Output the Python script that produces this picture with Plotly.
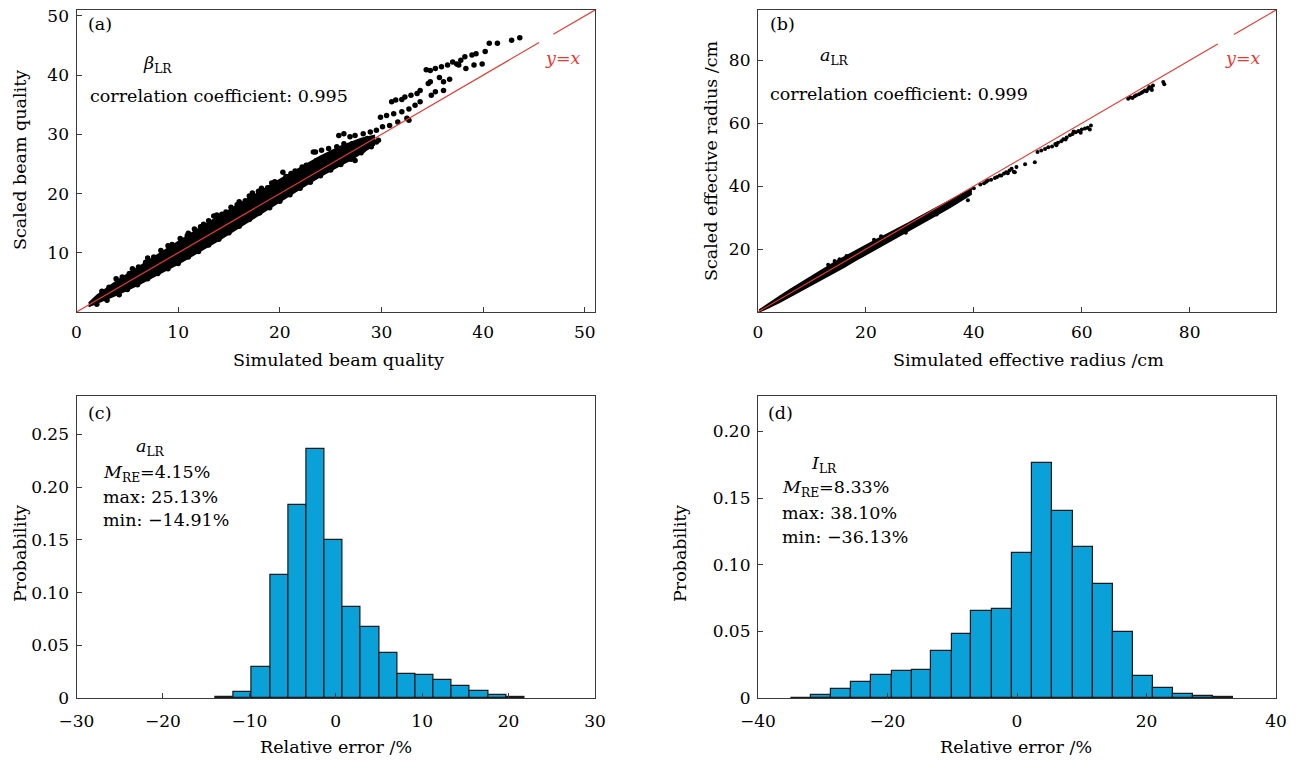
import plotly.graph_objects as go

FONT = "DejaVu Serif"
RED = "#e8392e"
BLUE = "#0aa0d8"

# ---------------- data ----------------
# (a) simulated vs scaled beam quality: dense core band (read envelope) + individual points
a_band_x = [1.2, 2, 4, 6, 8, 10, 12, 14, 16, 18, 20, 22, 24, 26, 27, 28, 29.3]
a_band_upper = [1.5, 2.8, 5.3, 7.5, 9.8, 12.0, 14.1, 16.2, 18.2, 20.3, 22.4, 24.4, 26.3, 28.0, 28.7, 29.3, 29.8]
a_band_lower = [0.9, 1.4, 2.9, 4.5, 6.3, 8.1, 10.1, 12.1, 14.3, 16.5, 18.6, 20.8, 22.9, 24.8, 25.7, 26.8, 28.2]
a_pts_x = [2.5, 3.2, 4.5, 5.2, 6.1, 6.8, 7.6, 8.3, 9.4, 10.2, 10.9, 11.6, 12.2, 13.0, 13.8, 14.3, 15.2,
           15.8, 16.6, 17.0, 17.9, 18.8, 19.2, 20.6, 21.5, 22.9, 23.6,
           2.0, 3.0, 4.2, 5.0, 6.0, 7.0, 8.0, 9.0, 10.0, 11.0, 12.0, 13.0, 14.0, 15.0, 16.0, 17.0,
           18.0, 19.0, 20.0, 21.0, 22.0, 23.0, 24.0, 25.0, 26.0, 27.0, 28.0, 29.0,
           3.9, 5.5, 7.0, 9.0, 11.0, 12.5, 13.5, 14.7, 16.0, 17.3, 18.2, 19.5, 20.3, 21.1, 22.2, 22.6,
           23.3, 23.5, 24.1, 24.8, 25.6, 26.3, 27.1, 27.8, 28.6, 29.5, 29.7, 28.9, 28.2, 27.1, 26.3,
           27.8, 28.2, 27.4, 26.7, 25.8, 26.3, 26.9, 27.4, 28.2, 28.9, 29.5, 30.1, 30.8, 31.6, 32.7,
           32.5, 29.9, 30.5, 31.2, 32.0, 32.7, 33.3, 33.8, 31.0, 31.4, 32.0, 32.3, 32.9, 33.5, 33.8,
           34.9, 35.3, 36.1, 34.6, 34.8, 35.7, 36.1, 36.7, 34.4, 34.8, 35.3, 35.9, 36.5, 37.0, 37.4,
           37.8, 38.2, 38.9, 39.3, 40.2, 37.6, 38.3, 39.1, 39.9, 40.6, 41.4, 42.8, 43.6, 24.5, 25.2]
a_pts_y = [3.5, 4.2, 5.9, 6.5, 7.6, 8.4, 9.3, 10.4, 11.4, 12.4, 12.9, 14.0, 14.4, 15.4, 16.4, 16.5, 17.7,
           18.1, 18.8, 19.6, 20.4, 21.0, 21.8, 22.9, 23.8, 24.8, 25.6,
           1.3, 2.0, 2.9, 3.8, 4.6, 5.6, 6.5, 7.3, 8.2, 9.3, 10.2, 11.3, 12.3, 13.4, 14.5, 15.6,
           16.7, 17.6, 18.7, 19.8, 20.9, 21.9, 23.0, 24.0, 24.9, 25.8, 26.9, 27.9,
           5.6, 7.3, 9.1, 11.2, 13.3, 14.8, 16.2, 16.9, 18.6, 20.1, 20.9, 22.0, 23.6, 23.4, 24.5, 24.8,
           27.0, 27.0, 27.3, 27.6, 27.9, 28.4, 28.4, 28.7, 29.3, 28.7, 29.0, 28.4, 27.9, 26.7, 26.2,
           27.0, 27.3, 25.6, 25.9, 29.8, 30.1, 29.6, 29.8, 30.1, 30.4, 30.7, 31.3, 31.5, 32.1, 32.4,
           32.7, 32.9, 33.2, 33.5, 33.8, 34.3, 34.9, 35.5, 35.5, 35.8, 35.9, 36.3, 36.6, 36.9, 37.4,
           36.6, 37.2, 37.4, 38.6, 38.9, 39.6, 38.9, 39.3, 40.9, 40.8, 41.1, 41.4, 41.7, 42.2, 41.9,
           42.5, 43.1, 43.4, 43.6, 44.0, 41.7, 41.1, 41.7, 41.9, 45.4, 45.4, 45.9, 46.3, 26.0, 26.4]
a_line_x = [0, 45.5, None, 46.9, 51]

# (b) simulated vs scaled effective radius
b_band_x = [0.2, 2, 4, 6, 8, 10, 12, 14, 16, 18, 20, 22, 24, 26, 28, 30, 32, 34, 36, 38, 39.5]
b_band_upper = [0.6, 2.8, 5.0, 7.2, 9.3, 11.4, 13.6, 15.6, 17.5, 19.4, 21.3, 23.1, 24.8, 26.5, 28.4, 30.3, 32.2, 34.1, 35.9, 37.9, 39.1]
b_band_lower = [0.0, 1.4, 3.1, 4.9, 6.8, 8.6, 10.5, 12.4, 14.3, 16.3, 18.2, 20.1, 22.0, 23.9, 25.9, 27.9, 29.8, 31.7, 33.7, 35.7, 37.4]
b_pts_x = [36.6, 38.9, 40.0, 41.2, 41.9, 42.3, 42.6, 43.2, 43.9, 44.3, 44.8, 45.1, 45.6, 46.0, 46.3, 46.6,
           47.0, 47.4, 47.6, 47.9, 49.5, 51.3,
           51.8, 52.5, 53.2, 53.8, 54.5, 55.1, 55.6, 56.2, 56.6, 57.2, 57.8, 58.3, 58.9, 59.4, 60.0,
           60.6, 61.1, 61.7, 61.5, 57.0, 55.3, 58.5, 59.8,
           68.6, 69.0, 69.4, 69.8, 70.1, 70.6, 71.0, 71.3, 71.7, 72.0, 72.3, 72.5, 72.9, 73.2, 73.0, 75.1, 75.3,
           13.0, 14.2, 15.1, 16.4, 21.5, 22.8, 27.4, 33.1]
b_pts_y = [34.9, 35.5, 39.3, 40.5, 40.9, 41.4, 41.8, 42.0, 42.6, 42.9, 43.4, 43.4, 44.0, 44.4, 44.1, 45.0,
           45.5, 44.6, 44.4, 46.1, 47.0, 47.6,
           50.9, 51.3, 51.8, 52.4, 52.6, 53.4, 53.8, 54.3, 54.9, 55.5, 56.2, 56.6, 57.1, 57.5, 58.0,
           58.3, 58.6, 59.3, 58.0, 54.8, 53.0, 57.4, 57.0,
           67.8, 68.3, 68.0, 68.6, 68.9, 69.2, 69.6, 69.9, 70.4, 70.2, 70.9, 71.5, 71.2, 72.0, 70.6, 73.1, 72.4,
           15.0, 16.2, 16.8, 17.8, 23.0, 24.1, 25.2, 31.0]
b_line_x = [0, 85.2, None, 88.2, 96]

# (c) histogram of relative error, a_LR
c_edges = [-13.94, -11.86, -9.72, -7.57, -5.51, -3.41, -1.30, 0.80, 2.90, 5.01, 7.11, 9.21,
           11.31, 13.42, 15.52, 17.62, 19.73, 21.83]
c_prob = [0.001, 0.006, 0.029, 0.117, 0.1835, 0.2365, 0.1495, 0.086, 0.0675, 0.0425, 0.023,
          0.022, 0.017, 0.011, 0.0063, 0.0032, 0.001]

# (d) histogram of relative error, I_LR
d_edges = [-34.87, -31.78, -28.70, -25.61, -22.53, -19.38, -16.29, -13.21, -10.06, -7.04, -3.89,
           -0.80, 2.28, 5.43, 8.58, 11.66, 14.75, 17.90, 20.98, 24.07, 27.15, 30.24, 33.32]
d_prob = [0.0003, 0.0023, 0.0065, 0.0118, 0.0173, 0.0205, 0.0213, 0.035, 0.0483, 0.065, 0.0665,
          0.109, 0.1765, 0.140, 0.1135, 0.0855, 0.0498, 0.0168, 0.0073, 0.0028, 0.0015, 0.0005]

# ---------------- figure ----------------
W, H = 1302, 760
def fx(p):
    return p / W
def fy(p):
    return 1 - p / H

fig = go.Figure()

def band(xs, up, lo, xa, ya):
    fig.add_trace(go.Scatter(x=xs + xs[::-1], y=up + lo[::-1], fill="toself",
                             fillcolor="black", line=dict(color="black", width=1.5),
                             mode="lines", xaxis=xa, yaxis=ya, hoverinfo="skip"))

band(a_band_x, a_band_upper, a_band_lower, "x", "y")
fig.add_trace(go.Scatter(x=a_pts_x, y=a_pts_y, mode="markers",
                         marker=dict(color="black", size=5.5), xaxis="x", yaxis="y"))
fig.add_trace(go.Scatter(x=a_line_x, y=a_line_x, mode="lines",
                         line=dict(color=RED, width=1.2), xaxis="x", yaxis="y"))

band(b_band_x, b_band_upper, b_band_lower, "x2", "y2")
fig.add_trace(go.Scatter(x=b_pts_x, y=b_pts_y, mode="markers",
                         marker=dict(color="black", size=4), xaxis="x2", yaxis="y2"))
fig.add_trace(go.Scatter(x=b_line_x, y=b_line_x, mode="lines",
                         line=dict(color=RED, width=1.2), xaxis="x2", yaxis="y2"))

def hist(edges, prob, xa, ya):
    centers = [(edges[i] + edges[i + 1]) / 2 for i in range(len(prob))]
    widths = [edges[i + 1] - edges[i] for i in range(len(prob))]
    fig.add_trace(go.Bar(x=centers, y=prob, width=widths,
                         marker=dict(color=BLUE, line=dict(color="#1a1a1a", width=1.2)),
                         xaxis=xa, yaxis=ya))

hist(c_edges, c_prob, "x3", "y3")
hist(d_edges, d_prob, "x4", "y4")

tf = dict(family=FONT, size=17, color="black")

def axis(domain, rng, vals, texts=None, anchor=None, standoff=None):
    d = dict(domain=domain, range=rng, showline=True, mirror=True, linecolor="#3a3a3a",
             linewidth=1.2, ticks="inside", ticklen=5, tickcolor="#3a3a3a", tickwidth=1,
             tickvals=vals, showgrid=False, zeroline=False, tickfont=tf, anchor=anchor,
             fixedrange=True, automargin=False)
    if texts is not None:
        d["ticktext"] = texts
    if standoff is not None:
        d["ticklabelstandoff"] = standoff
    return d

L1, R1 = fx(76.5), fx(595)
L2, R2 = fx(758), fx(1276)
T1, B1 = fy(10), fy(312)
T2, B2 = fy(396), fy(698)

fig.update_layout(
    width=W, height=H, margin=dict(l=0, r=0, t=0, b=0),
    paper_bgcolor="white", plot_bgcolor="white", showlegend=False, bargap=0,
    font=dict(family=FONT, size=17, color="black"),
    xaxis=axis([L1, R1], [0, 51], [0, 10, 20, 30, 40, 50], anchor="y", standoff=4),
    yaxis=axis([B1, T1], [0, 51], [10, 20, 30, 40, 50], anchor="x", standoff=3),
    xaxis2=axis([L2, R2], [0, 96], [0, 20, 40, 60, 80], anchor="y2", standoff=4),
    yaxis2=axis([B1, T1], [0, 96], [20, 40, 60, 80], anchor="x2", standoff=3),
    xaxis3=axis([L1, R1], [-30, 30], [-30, -20, -10, 0, 10, 20, 30], anchor="y3", standoff=7),
    yaxis3=axis([B2, T2], [0, 0.2865], [0, 0.05, 0.10, 0.15, 0.20, 0.25],
                ["0", "0.05", "0.10", "0.15", "0.20", "0.25"], anchor="x3", standoff=3),
    xaxis4=axis([L2, R2], [-40, 40], [-40, -20, 0, 20, 40], anchor="y4", standoff=7),
    yaxis4=axis([B2, T2], [0, 0.2265], [0, 0.05, 0.10, 0.15, 0.20],
                ["0", "0.05", "0.10", "0.15", "0.20"], anchor="x4", standoff=3),
)

def note(x, y, text, color="black", xanchor="left", size=17.5, angle=0):
    fig.add_annotation(x=fx(x), y=fy(y), xref="paper", yref="paper", text=text,
                       showarrow=False, xanchor=xanchor, yanchor="middle", textangle=angle,
                       font=dict(family=FONT, size=size, color=color))

# panel labels and texts
note(86, 24, "(a)")
note(141, 65, "<i>β</i><sub>LR</sub>")
note(88, 96, "correlation coefficient: 0.995")
note(543, 58, "<i>y</i>=<i>x</i>", color=RED)

note(768, 24, "(b)")
note(818, 57, "<i>a</i><sub>LR</sub>")
note(768, 94, "correlation coefficient: 0.999")
note(1223, 58, "<i>y</i>=<i>x</i>", color=RED)

note(86, 413, "(c)")
note(134, 448, "<i>a</i><sub>LR</sub>")
note(101, 473, "<i>M</i><sub>RE</sub>=4.15%")
note(101, 497, "max: 25.13%")
note(101, 520, "min: \u221214.91%")

note(766, 413, "(d)")
note(809, 465, "<i>I</i><sub>LR</sub>")
note(780, 489, "<i>M</i><sub>RE</sub>=8.33%")
note(780, 513, "max: 38.10%")
note(780, 537, "min: \u221236.13%")

# axis titles
note(338, 360, "Simulated beam quality", xanchor="center")
note(1028, 360, "Simulated effective radius /cm", xanchor="center")
note(336, 747, "Relative error /%", xanchor="center")
note(1016, 747, "Relative error /%", xanchor="center")
note(20, 160, "Scaled beam quality", xanchor="center", angle=-90)
note(711, 161, "Scaled effective radius /cm", xanchor="center", angle=-90)
note(20, 554, "Probability", xanchor="center", angle=-90)
note(680, 554, "Probability", xanchor="center", angle=-90)

fig.write_html("out.html")
